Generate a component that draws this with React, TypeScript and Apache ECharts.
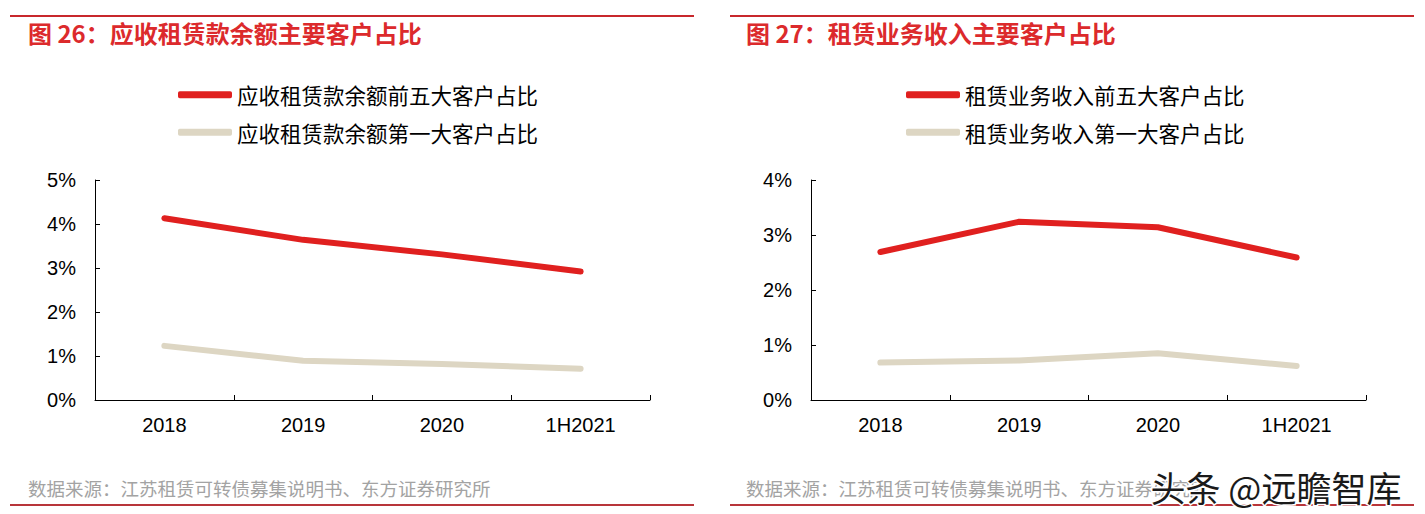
import React, { useEffect, useRef } from "react";
import * as echarts from "echarts";

const categories = ["2018", "2019", "2020", "1H2021"];
const leftTop5 = [4.13, 3.64, 3.31, 2.92];
const leftTop1 = [1.23, 0.89, 0.82, 0.71];
const rightTop5 = [2.69, 3.24, 3.14, 2.59];
const rightTop1 = [0.68, 0.72, 0.85, 0.62];

const leftNames = ["应收租赁款余额前五大客户占比", "应收租赁款余额第一大客户占比"];
const rightNames = ["租赁业务收入前五大客户占比", "租赁业务收入第一大客户占比"];
const titles = ["图 26：应收租赁款余额主要客户占比", "图 27：租赁业务收入主要客户占比"];
const sourceText = "数据来源：江苏租赁可转债募集说明书、东方证券研究所";
const watermark = "头条 @远瞻智库";

const RED = "#e0201f";
const BEIGE = "#ddd6c3";
const TITLE_RED = "#dc2a2c";
const CJK = '"Noto Sans CJK SC", "Noto Sans", sans-serif';
const NUM = '"Liberation Sans", Arial, sans-serif';

export default function App() {
  const ref = useRef<HTMLDivElement>(null);
  useEffect(() => {
    if (!ref.current) return;
    const chart = echarts.init(ref.current, null, { renderer: "svg" });
    const xAxisBase = (gridIndex: number) => ({
      type: "category",
      gridIndex,
      data: categories,
      boundaryGap: true,
      axisLine: { show: true, lineStyle: { color: "#000", width: 1 } },
      axisTick: { show: true, inside: true, length: 5, lineStyle: { color: "#000" } },
      axisLabel: { color: "#000", fontSize: 20, fontFamily: NUM, margin: 15 },
      splitLine: { show: false },
    });
    const yAxisBase = (gridIndex: number, max: number) => ({
      type: "value",
      gridIndex,
      min: 0,
      max,
      interval: 1,
      axisLine: { show: true, lineStyle: { color: "#000", width: 1 } },
      axisTick: { show: true, inside: true, length: 5, lineStyle: { color: "#000" } },
      axisLabel: {
        color: "#000",
        fontSize: 20,
        fontFamily: NUM,
        margin: 19,
        formatter: (v: number) => `${v}%`,
      },
      splitLine: { show: false },
    });
    const lineSeries = (name: string, data: number[], color: string, idx: number) => ({
      type: "line",
      name,
      data,
      xAxisIndex: idx,
      yAxisIndex: idx,
      symbol: "none",
      smooth: false,
      lineStyle: { color, width: 6, cap: "round", join: "round" },
      itemStyle: { color },
    });
    const legendBase = (left: number, data: string[]) => ({
      orient: "vertical",
      left,
      top: 84,
      padding: 0,
      itemGap: 16,
      itemWidth: 54,
      itemHeight: 7,
      icon: "roundRect",
      data,
      textStyle: { color: "#000", fontSize: 21.5, fontFamily: CJK },
      selectedMode: false,
    });
    chart.setOption({
      animation: false,
      backgroundColor: "#fff",
      grid: [
        { left: 95, top: 180, width: 555, height: 220 },
        { left: 811, top: 180, width: 555, height: 220 },
      ],
      xAxis: [xAxisBase(0), xAxisBase(1)],
      yAxis: [yAxisBase(0, 5), yAxisBase(1, 4)],
      legend: [legendBase(178, leftNames), legendBase(906, rightNames)],
      series: [
        lineSeries(leftNames[0], leftTop5, RED, 0),
        lineSeries(leftNames[1], leftTop1, BEIGE, 0),
        lineSeries(rightNames[0], rightTop5, RED, 1),
        lineSeries(rightNames[1], rightTop1, BEIGE, 1),
      ],
      graphic: [
        { type: "line", shape: { x1: 10, y1: 16, x2: 694, y2: 16 }, style: { stroke: "#c8282c", lineWidth: 2 } },
        { type: "line", shape: { x1: 730, y1: 16, x2: 1414, y2: 16 }, style: { stroke: "#c8282c", lineWidth: 2 } },
        { type: "line", shape: { x1: 10, y1: 505, x2: 694, y2: 505 }, style: { stroke: "#b8353a", lineWidth: 2 } },
        { type: "line", shape: { x1: 730, y1: 505, x2: 1414, y2: 505 }, style: { stroke: "#b8353a", lineWidth: 2 } },
        {
          type: "text",
          left: 28,
          top: 20,
          style: { text: titles[0], fill: TITLE_RED, font: `bold 24px ${CJK}` },
        },
        {
          type: "text",
          left: 746,
          top: 20,
          style: { text: titles[1], fill: TITLE_RED, font: `bold 24px ${CJK}` },
        },
        {
          type: "text",
          left: 28,
          top: 479,
          style: { text: sourceText, fill: "#a3a3a3", font: `18.5px ${CJK}` },
        },
        {
          type: "text",
          left: 746,
          top: 479,
          style: { text: sourceText, fill: "#a3a3a3", font: `18.5px ${CJK}` },
        },
        {
          type: "text",
          left: 1149,
          top: 467,
          z: 100,
          style: {
            text: watermark,
            fill: "#1a1a1a",
            font: `35px ${CJK}`,
            stroke: "#ffffff",
            lineWidth: 3,
          },
        },
      ],
    });
    return () => chart.dispose();
  }, []);
  return (
    <div
      ref={ref}
      style={{ position: "absolute", left: 0, top: 0, width: 1425, height: 514 }}
    />
  );
}
